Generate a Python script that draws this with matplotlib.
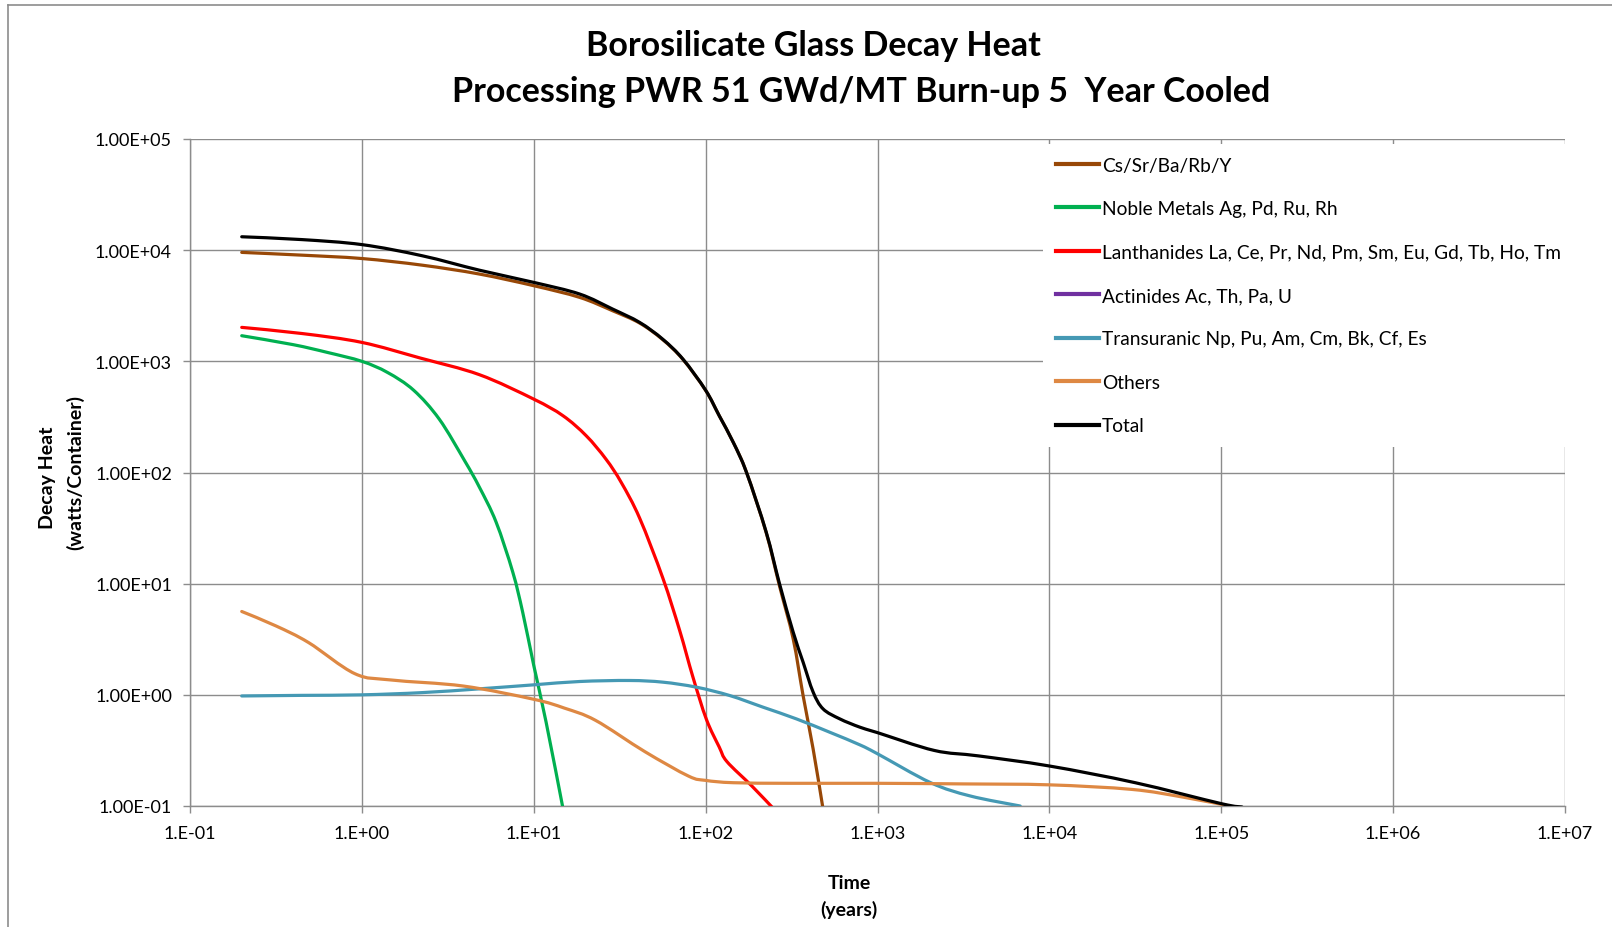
import matplotlib
matplotlib.use("Agg")
import numpy as np
import matplotlib.pyplot as plt
from matplotlib.lines import Line2D
from matplotlib.patches import Rectangle, PathPatch
from matplotlib.path import Path
from matplotlib.ticker import FixedLocator, NullLocator

plt.rcParams['font.family'] = ['Lato', 'DejaVu Sans']

# ---------------- data (years, watts/container) ----------------
cs_years = [0.2, 0.447, 1, 2.24, 4.82, 10, 18.5, 28.8, 41.3, 56.2, 73.8, 100, 120, 145, 173,
            225, 269, 323, 369, 422, 479]
cs_heat = [9550, 9020, 8410, 7330, 6100, 4790, 3760, 2850, 2210, 1570, 1040, 548, 324, 186, 100,
           28.8, 9.55, 3.2, 0.986, 0.327, 0.1]

noble_years = [0.2, 0.398, 0.631, 1, 1.41, 2.0, 2.82, 3.98, 4.82, 6.03, 7.55, 8.63, 10, 11.8, 14.7]
noble_heat = [1700, 1413, 1202, 1000, 794, 550, 302, 126, 74.1, 36.0, 12.7, 5.5, 1.84, 0.568, 0.1]

lan_years = [0.2, 0.447, 1, 2.19, 4.82, 10, 14.8, 20.2, 26.3, 32.3, 41.3, 56.4, 70.6, 84.3, 101,
             120, 133, 186, 251]
lan_heat = [2020, 1780, 1480, 1070, 759, 457, 324, 214, 132, 81.3, 38.9, 11.2, 3.80, 1.45, 0.603,
            0.339, 0.251, 0.151, 0.093]

act_years = []   # actinide contribution lies below the 0.1 W axis floor (not visible)
act_heat = []

tru_years = [0.2, 0.447, 1, 2.24, 4.82, 10, 18.5, 36.1, 56.4, 88.3, 138, 216, 337, 527, 789, 1000,
             2040, 3470, 6760]
tru_heat = [0.977, 0.989, 1.0, 1.047, 1.132, 1.23, 1.318, 1.346, 1.30, 1.172, 0.986, 0.774, 0.608,
            0.461, 0.355, 0.295, 0.162, 0.123, 0.1]

oth_years = [0.2, 0.316, 0.49, 0.91, 1.48, 3.89, 10, 15.1, 22.9, 44.2, 79.4, 100, 145, 316, 1000,
             3160, 10000, 30200, 60300, 112000]
oth_heat = [5.62, 4.17, 2.95, 1.55, 1.36, 1.20, 0.912, 0.759, 0.589, 0.309, 0.186, 0.170, 0.162,
            0.160, 0.160, 0.158, 0.155, 0.141, 0.120, 0.1]

tot_years = [0.2, 0.447, 1, 2.24, 4.82, 10, 18.5, 28.8, 41.3, 56.2, 73.8, 100, 120, 145, 173, 225,
             269, 323, 369, 422, 482, 603, 789, 1000, 2140, 3890, 10000, 31600, 100000, 132000]
tot_heat = [13200, 12450, 11220, 8910, 6610, 5130, 4030, 2950, 2240, 1585, 1047, 550, 324, 186, 100,
            29.2, 10.0, 3.67, 1.97, 1.06, 0.748, 0.608, 0.512, 0.457, 0.316, 0.282, 0.229, 0.162,
            0.105, 0.098]

series_labels = ["Cs/Sr/Ba/Rb/Y", "Noble Metals Ag, Pd, Ru, Rh",
                 "Lanthanides La, Ce, Pr, Nd, Pm, Sm, Eu, Gd, Tb, Ho, Tm",
                 "Actinides Ac, Th, Pa, U", "Transuranic Np, Pu, Am, Cm, Bk, Cf, Es",
                 "Others", "Total"]

x_ticks = [1e-1, 1e0, 1e1, 1e2, 1e3, 1e4, 1e5, 1e6, 1e7]
x_tick_labels = ["1.E-01", "1.E+00", "1.E+01", "1.E+02", "1.E+03", "1.E+04", "1.E+05", "1.E+06", "1.E+07"]
y_ticks = [1e-1, 1e0, 1e1, 1e2, 1e3, 1e4, 1e5]
y_tick_labels = ["1.00E-01", "1.00E+00", "1.00E+01", "1.00E+02", "1.00E+03", "1.00E+04", "1.00E+05"]

title_line1 = "Borosilicate Glass Decay Heat"
title_line2 = "Processing PWR 51 GWd/MT Burn-up 5  Year Cooled"

# ---------------- figure ----------------
W, H = 1612, 928
fig = plt.figure(figsize=(W / 100, H / 100), dpi=100)


def fx(px):
    return px / W


def fy(py):
    return 1 - py / H


ax = fig.add_axes([fx(190), fy(807), fx(1565) - fx(190), fy(140) - fy(807)])
ax.set_xscale('log')
ax.set_yscale('log')
ax.set_xlim(1e-1, 1e7)
ax.set_ylim(1e-1, 1e5)

grid_c = '#8c8c8c'
ax.xaxis.set_major_locator(FixedLocator(x_ticks))
ax.yaxis.set_major_locator(FixedLocator(y_ticks))
ax.xaxis.set_minor_locator(NullLocator())
ax.yaxis.set_minor_locator(NullLocator())
ax.set_xticklabels(x_tick_labels)
ax.set_yticklabels(y_tick_labels)
ax.grid(True, which='major', color=grid_c, linewidth=1.0, zorder=0)
ax.set_axisbelow(True)
for s in ['top', 'right']:
    ax.spines[s].set_visible(False)
for s in ['left', 'bottom']:
    ax.spines[s].set_color(grid_c)
    ax.spines[s].set_linewidth(1.0)
ax.tick_params(axis='both', which='major', length=5, width=1.0, color=grid_c,
               labelsize=13, labelcolor='black', direction='out')
ax.tick_params(axis='x', pad=9)
ax.tick_params(axis='y', pad=8)


def smooth_path(xs, ys):
    """Smoothed line (like a spreadsheet 'smoothed line') through the read data points;
    Bezier control points are built in log space so the curve is smooth on log-log axes."""
    lx = np.log10(np.asarray(xs, float))
    ly = np.log10(np.asarray(ys, float))
    P = np.column_stack([lx, ly])
    n = len(P)
    verts = [P[0]]
    codes = [Path.MOVETO]
    for i in range(n - 1):
        p0 = P[i - 1] if i > 0 else P[i]
        p1 = P[i]
        p2 = P[i + 1]
        p3 = P[i + 2] if i + 2 < n else P[i + 1]
        c1 = p1 + (p2 - p0) / 6.0
        c2 = p2 - (p3 - p1) / 6.0
        verts += [c1, c2, p2]
        codes += [Path.CURVE4] * 3
    verts = 10 ** np.array(verts)
    return Path(verts, codes)


lw = 2.3
colors = ['#984807', '#00B050', '#FF0000', '#7030A0', '#4599B4', '#DE8843', '#000000']
data = [(cs_years, cs_heat), (noble_years, noble_heat), (lan_years, lan_heat),
        (act_years, act_heat), (tru_years, tru_heat), (oth_years, oth_heat),
        (tot_years, tot_heat)]
draw_order = [5, 4, 3, 2, 1, 6, 0]
for i in draw_order:
    xs, ys = data[i]
    if len(xs) < 2:
        ax.plot(xs, ys, color=colors[i], lw=lw)
        continue
    patch = PathPatch(smooth_path(xs, ys), facecolor='none', edgecolor=colors[i], lw=lw,
                      capstyle='round', joinstyle='round', zorder=3 + i * 0.1)
    ax.add_patch(patch)

# legend background (covers gridlines like the reference)
fig.add_artist(Rectangle((fx(1043), fy(448)), fx(1570) - fx(1043), fy(145) - fy(448),
                         transform=fig.transFigure, facecolor='white', edgecolor='none',
                         zorder=2))

leg_handles = [Line2D([], [], color=colors[i], lw=3) for i in range(7)]
leg = fig.legend(leg_handles, series_labels, loc='upper left',
                 bbox_to_anchor=(fx(1043), fy(145)), frameon=False, fontsize=13.8,
                 handlelength=2.24, handletextpad=0.16, labelspacing=1.38,
                 borderpad=0.66, borderaxespad=0)
leg.set_zorder(6)

# titles
fig.text(fx(813), fy(46), title_line1, ha='center', va='center', fontsize=24.5, fontweight='bold')
fig.text(fx(861), fy(92.5), title_line2, ha='center', va='center', fontsize=24.5, fontweight='bold')

# axis labels
fig.text(fx(48), fy(478), "Decay Heat", rotation=90, ha='center', va='center',
         fontsize=14, fontweight='bold')
fig.text(fx(75), fy(473), "(watts/Container)", rotation=90, ha='center', va='center',
         fontsize=14, fontweight='bold')
fig.text(fx(849), fy(884), "Time", ha='center', va='center', fontsize=14, fontweight='bold')
fig.text(fx(849), fy(910), "(years)", ha='center', va='center', fontsize=14, fontweight='bold')

# chart-area border
bc = '#8c8c8c'
fig.add_artist(Line2D([fx(8), fx(8)], [0, fy(5.5)], color=bc, lw=1.2, transform=fig.transFigure))
fig.add_artist(Line2D([fx(8), 1], [fy(5.5), fy(5.5)], color=bc, lw=1.2, transform=fig.transFigure))

fig.savefig("out.png", dpi=100)
